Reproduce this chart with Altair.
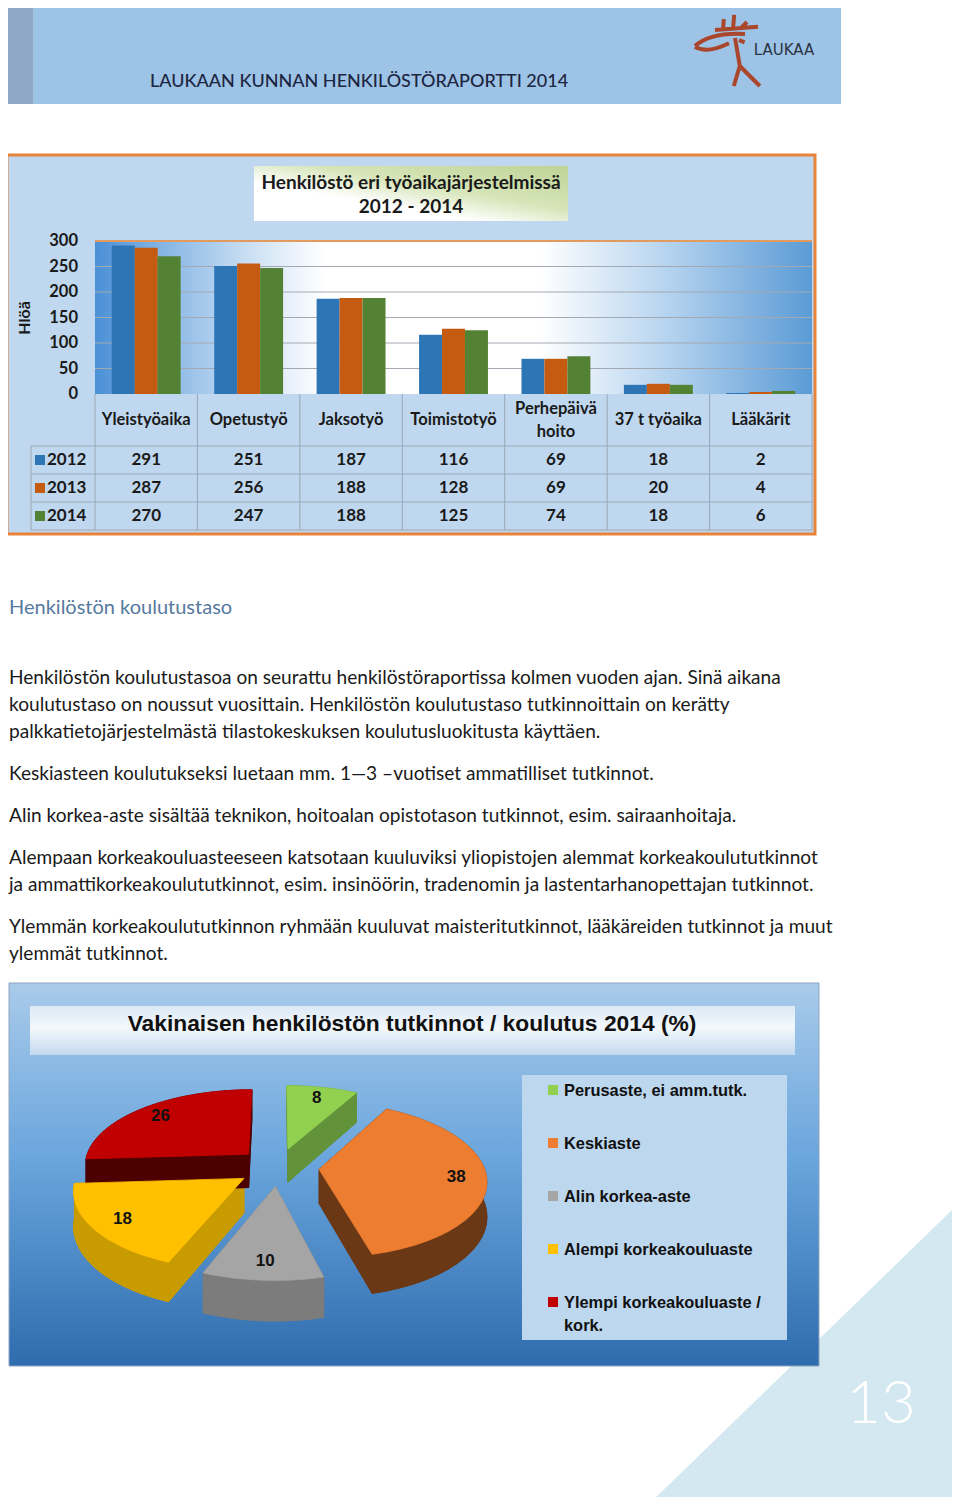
import altair as alt
import numpy as np
import pandas as pd

# ---------------- data ----------------
bar_categories = ["Yleistyöaika", "Opetustyö", "Jaksotyö", "Toimistotyö",
                  "Perhepäivä\nhoito", "37 t työaika", "Lääkärit"]
bar_years = ["2012", "2013", "2014"]
values_2012 = [291, 251, 187, 116, 69, 18, 2]
values_2013 = [287, 256, 188, 128, 69, 20, 4]
values_2014 = [270, 247, 188, 125, 74, 18, 6]
y_ticks = [0, 50, 100, 150, 200, 250, 300]
bar_colors = ["#2E75B6", "#C55A11", "#548235"]

pie_labels = ["Perusaste, ei amm.tutk.", "Keskiaste", "Alin korkea-aste",
              "Alempi korkeakouluaste", "Ylempi korkeakouluaste / kork."]
pie_values = [8, 38, 10, 18, 26]
pie_top_colors = ["#92D050", "#ED7D31", "#A5A5A5", "#FFC000", "#C00000"]
pie_side_colors = ["#62933A", "#6B3816", "#7C7C7C", "#C89B00", "#4C0000"]

header_title = "LAUKAAN KUNNAN HENKILÖSTÖRAPORTTI 2014"
bar_title = ["Henkilöstö eri työaikajärjestelmissä", "2012 - 2014"]
y_title = "Hlöä"
section_heading = "Henkilöstön koulutustaso"
paragraph_lines = [
    "Henkilöstön koulutustasoa on seurattu henkilöstöraportissa kolmen vuoden ajan. Sinä aikana",
    "koulutustaso on noussut vuosittain. Henkilöstön koulutustaso tutkinnoittain on kerätty",
    "palkkatietojärjestelmästä tilastokeskuksen koulutusluokitusta käyttäen.",
    "Keskiasteen koulutukseksi luetaan mm. 1—3 –vuotiset ammatilliset tutkinnot.",
    "Alin korkea-aste sisältää teknikon, hoitoalan opistotason tutkinnot, esim. sairaanhoitaja.",
    "Alempaan korkeakouluasteeseen katsotaan kuuluviksi yliopistojen alemmat korkeakoulututkinnot",
    "ja ammattikorkeakoulututkinnot, esim. insinöörin, tradenomin ja lastentarhanopettajan tutkinnot.",
    "Ylemmän korkeakoulututkinnon ryhmään kuuluvat maisteritutkinnot, lääkäreiden tutkinnot ja muut",
    "ylemmät tutkinnot.",
]
paragraph_y = [678, 705, 732, 774, 816, 858, 885, 927, 954]
pie_title = "Vakinaisen henkilöstön tutkinnot / koulutus 2014  (%)"
page_number = "13"

# ---------------- helpers ----------------
O = 8  # page margin
def px(v):
    return v - O

F_C = "Lato"              # Calibri-like
F_T = "Liberation Sans"   # Tahoma-like
one = pd.DataFrame({"k": [0]})
L = []

def box(x1, y1, x2, y2, **kw):
    return alt.Chart(one).mark_rect(**kw).encode(
        x=alt.value(px(x1)), x2=alt.value(px(x2)),
        y=alt.value(px(y1)), y2=alt.value(px(y2)))

def hline(y, x1, x2, color="#9AA7B5", w=1):
    return alt.Chart(one).mark_rule(color=color, strokeWidth=w).encode(
        x=alt.value(px(x1)), x2=alt.value(px(x2)), y=alt.value(px(y)))

def vline(x, y1, y2, color="#9AA7B5", w=1):
    return alt.Chart(one).mark_rule(color=color, strokeWidth=w).encode(
        x=alt.value(px(x)), y=alt.value(px(y1)), y2=alt.value(px(y2)))

def txt(x, y, text, size, weight="normal", color="#1a1a1a", align="left",
        font=F_C, angle=None):
    kw = dict(fontSize=size, fontWeight=weight, color=color, align=align,
              baseline="middle", font=font)
    if angle is not None:
        kw["angle"] = angle
    return alt.Chart(one).mark_text(**kw).encode(
        x=alt.value(px(x)), y=alt.value(px(y)), text=alt.value(text))

def lin(stops, x1=0, y1=0, x2=1, y2=0):
    return {"gradient": "linear", "x1": x1, "y1": y1, "x2": x2, "y2": y2,
            "stops": [{"offset": o, "color": c} for o, c in stops]}

# ---------------- header ----------------
L.append(box(8, 2, 841, 104, fill="#9DC3E6"))
L.append(box(8, 2, 33, 104, fill="#8FA8C6"))
L.append(txt(150, 82, header_title, 18, weight=500, color="#1C2541"))
logo_path = ("M -0.5 -0.55 L 0.575 -0.63 "
             "M -0.3 -0.55 L -0.28 -0.82 M -0.05 -0.58 L -0.02 -0.93 M 0.15 -0.6 L 0.3 -0.75 "
             "M -1 -0.15 Q -0.6 -0.5 0.25 -0.45 "
             "M -1 -0.13 Q -0.7 0.05 -0.15 -0.22 "
             "M 0 -0.35 L 0.12 0.35 L -0.03 0.85 M 0.12 0.35 L 0.32 0.55 L 0.62 0.85 "
             "M 0.1 -0.3 L 0.24 -0.24")
L.append(alt.Chart(one).mark_point(shape=logo_path, size=6400, filled=False,
                                   stroke="#A9462C", strokeWidth=4, opacity=1).encode(
    x=alt.value(px(735)), y=alt.value(px(52))))
L.append(txt(784, 50, "LAUKAA", 15, color="#2B3442", align="center", font="DejaVu Sans"))

# ---------------- bar chart panel ----------------
L.append(box(7, 155, 815, 534, fill="#BFD8EF", stroke="#E8833A", strokeWidth=3))
L.append(box(254, 166, 568, 221, fill=lin([(0, "#FFFFFF"), (0.35, "#FFFFFF"),
                                             (0.6, "#D6E5B8"), (1, "#BED396")],
                                            x1=0, y1=1, x2=1, y2=0)))
L.append(txt(411, 183, bar_title[0], 19, weight="bold", align="center"))
L.append(txt(411, 207, bar_title[1], 19, weight="bold", align="center"))

X0, X1, YB, YT = 95, 812, 394, 241
L.append(box(X0, YT, X1, YB, fill=lin([(0, "#4A8FD6"), (0.08, "#7DB0E2"), (0.24, "#D8E8F7"),
                                         (0.32, "#FFFFFF"), (0.62, "#FFFFFF"),
                                         (0.8, "#B5D3EF"), (1, "#5B9BD5")])))

def xband():
    return alt.Scale(type="band", domain=bar_categories, range=[px(X0), px(X1)],
                     paddingInner=0, paddingOuter=0)

yscale = alt.Scale(domain=[0, 300], range=[px(YB), px(YT)], nice=False)

tick_df = pd.DataFrame({"t": y_ticks})
L.append(alt.Chart(tick_df).transform_filter("datum.t > 0 && datum.t < 300").mark_rule(
    color="#A3A9B2", strokeWidth=1).encode(
    y=alt.Y("t:Q", scale=yscale, axis=None), x=alt.value(px(X0)), x2=alt.value(px(X1))))
L.append(hline(YT, X0, X1, color="#E39A5E", w=2))

bar_df = pd.DataFrame([
    {"cat": c, "year": y, "value": v}
    for y, vals in zip(bar_years, [values_2012, values_2013, values_2014])
    for c, v in zip(bar_categories, vals)
])
year_color = alt.Scale(domain=bar_years, range=bar_colors)
L.append(alt.Chart(bar_df).mark_bar().encode(
    x=alt.X("cat:N", scale=xband(), axis=None, sort=bar_categories),
    xOffset=alt.XOffset("year:N", scale=alt.Scale(domain=bar_years, paddingInner=0,
                                                   paddingOuter=0.73)),
    y=alt.Y("value:Q", scale=yscale, axis=None),
    color=alt.Color("year:N", scale=year_color, legend=None)))

L.append(alt.Chart(tick_df).mark_text(align="right", baseline="middle", fontSize=16.5,
                                      fontWeight="bold", font=F_C, color="#1a1a1a").encode(
    y=alt.Y("t:Q", scale=yscale, axis=None), x=alt.value(px(78)), text="t:Q"))
L.append(txt(25, 318, y_title, 16, weight="bold", align="center", angle=270))

# table grid
for yy in [446, 474, 502, 530]:
    L.append(hline(yy, 31, X1))
L.append(vline(31, 446, 530))
cat_df = pd.DataFrame({"cat": bar_categories})
L.append(alt.Chart(cat_df).mark_rule(color="#9AA7B5", strokeWidth=1).encode(
    x=alt.X("cat:N", scale=xband(), axis=None, bandPosition=0),
    y=alt.value(px(394)), y2=alt.value(px(530))))
L.append(vline(X1, 394, 530))

L.append(alt.Chart(cat_df).transform_filter("indexof(datum.cat, '\\n') < 0").mark_text(
    fontSize=16.5, fontWeight="bold", font=F_C, color="#1a1a1a", baseline="middle").encode(
    x=alt.X("cat:N", scale=xband(), axis=None), y=alt.value(px(420)), text="cat:N"))
L.append(alt.Chart(cat_df).transform_filter("indexof(datum.cat, '\\n') >= 0").mark_text(
    fontSize=16.5, fontWeight="bold", font=F_C, color="#1a1a1a", baseline="top",
    lineBreak="\n", lineHeight=23).encode(
    x=alt.X("cat:N", scale=xband(), axis=None), y=alt.value(px(401)), text="cat:N"))

row_y = alt.Scale(type="point", domain=bar_years, range=[px(460), px(516)], padding=0)
L.append(alt.Chart(bar_df).mark_text(fontSize=17, fontWeight="bold", font=F_C,
                                     color="#1a1a1a", baseline="middle").encode(
    x=alt.X("cat:N", scale=xband(), axis=None),
    y=alt.Y("year:N", scale=row_y, axis=None), text="value:Q"))
year_df = pd.DataFrame({"year": bar_years})
L.append(alt.Chart(year_df).mark_square(size=100, opacity=1).encode(
    x=alt.value(px(40)), y=alt.Y("year:N", scale=row_y, axis=None),
    color=alt.Color("year:N", scale=year_color, legend=None)))
L.append(alt.Chart(year_df).mark_text(fontSize=17, fontWeight="bold", font=F_C,
                                      color="#1a1a1a", baseline="middle", align="left").encode(
    x=alt.value(px(47)), y=alt.Y("year:N", scale=row_y, axis=None), text="year:N"))

# ---------------- text section ----------------
L.append(txt(9, 608, section_heading, 20, color="#56799E"))
for line, yy in zip(paragraph_lines, paragraph_y):
    L.append(txt(9, yy, line, 19.1, color="#1a1a1a"))

# ---------------- page corner ----------------
L.append(alt.Chart(one).mark_point(shape="M 1 -0.94 L 1 1 L -1 1 Z", size=312 ** 2,
                                   filled=True, fill="#D3E8F0", opacity=1, strokeWidth=0).encode(
    x=alt.value(px(804)), y=alt.value(px(1349))))
L.append(txt(881, 1405, page_number, 60, weight=300, color="#FFFFFF", align="center"))

# ---------------- pie panel ----------------
L.append(box(9, 983, 819, 1366, fill=lin([(0, "#A9CBEA"), (0.45, "#6BA6DD"), (1, "#2E6CAE")],
                                           x1=0, y1=0, x2=0, y2=1),
             stroke="#8EA6C0", strokeWidth=1))
L.append(box(30, 1006, 795, 1055, fill=lin([(0, "#DCE9F6"), (0.45, "#F3F8FC"), (1, "#C3D9EF")],
                                             x1=0, y1=0, x2=0, y2=1)))
L.append(txt(412, 1024, pie_title, 22.8, weight="bold", align="center", font=F_T, color="#111111"))

N = 30
M = 2 * N
E, P, D = 0.25, 0.13, 0.447
pie_total = float(sum(pie_values))
cum = np.cumsum([0] + pie_values[:-1])
slice_df = pd.DataFrame({
    "s": list(range(len(pie_values))),
    "label": pie_labels,
    "value": pie_values,
    "f0": cum / pie_total,
    "f1": (cum + np.array(pie_values)) / pie_total,
    "top": pie_top_colors,
    "side": pie_side_colors,
})
CX, CY, RX, RY = 278, 1167, 165, 76
pie_x = alt.Scale(domain=[-1, 1], range=[px(CX - RX), px(CX + RX)], nice=False, zero=False)
pie_y = alt.Scale(domain=[-1, 1], range=[px(CY - RY), px(CY + RY)], nice=False, zero=False)

geo = (alt.Chart(alt.sequence(0, len(pie_values) * 5 * M, as_="k"))
       .transform_calculate(s=f"floor(datum.k / {5 * M})", rem=f"datum.k % {5 * M}")
       .transform_calculate(part=f"floor(datum.rem / {M})", j=f"datum.rem % {M}")
       .transform_lookup(lookup="s", from_=alt.LookupData(slice_df, key="s",
                                                           fields=["f0", "f1", "top", "side"]))
       .transform_calculate(a0="2*PI*datum.f0", a1="2*PI*datum.f1")
       .transform_calculate(mid="(datum.a0+datum.a1)/2", q="min(datum.j, 3)")
       .transform_calculate(
           r="datum.part==1 ? 1 : (datum.part==2 || datum.part==3) ? ((datum.q==1 || datum.q==2) ? 1 : 0) : (datum.j==0 ? 0 : 1)",
           ang=(f"datum.part==1 ? datum.a0+(datum.a1-datum.a0)*(datum.j<{N} ? datum.j : {2 * N - 1}-datum.j)/{N - 1}"
                f" : datum.part==2 ? datum.a0 : datum.part==3 ? datum.a1"
                f" : datum.a0+(datum.a1-datum.a0)*clamp((datum.j-1)/{N - 1}, 0, 1)"),
           dz=(f"datum.part==0 ? 1 : datum.part==1 ? (datum.j<{N} ? 0 : 1)"
               f" : (datum.part<=3 ? (datum.q>=2 ? 1 : 0) : 0)"))
       .transform_calculate(u=f"datum.r*sin(datum.ang) + {E}*sin(datum.mid)",
                            v=f"-datum.r*cos(datum.ang) - {E}*cos(datum.mid)")
       .transform_calculate(w=f"1/(1-{P}*datum.v)")
       .transform_calculate(X="datum.u*datum.w", Y=f"(datum.v + datum.dz*{D})*datum.w",
                            gid="datum.s*10+datum.part",
                            col="datum.part==4 ? datum.top : datum.side"))

def pie_layer(flt):
    return geo.transform_filter(flt).mark_line(interpolate="linear-closed", strokeWidth=0.8).encode(
        x=alt.X("X:Q", scale=pie_x, axis=None),
        y=alt.Y("Y:Q", scale=pie_y, axis=None),
        detail="gid:N", order="j:Q",
        fill=alt.Fill("col:N", scale=None),
        stroke=alt.Stroke("col:N", scale=None))

L.append(pie_layer("datum.part < 4"))
L.append(pie_layer("datum.part == 4"))

LR = 0.82
L.append(alt.Chart(slice_df)
         .transform_calculate(mid="PI*(datum.f0+datum.f1)")
         .transform_calculate(u=f"{E + LR}*sin(datum.mid)", v=f"-{E + LR}*cos(datum.mid)")
         .transform_calculate(w=f"1/(1-{P}*datum.v)")
         .transform_calculate(X="datum.u*datum.w", Y="datum.v*datum.w")
         .mark_text(fontSize=17, fontWeight="bold", font=F_T, color="#111111", baseline="middle")
         .encode(x=alt.X("X:Q", scale=pie_x, axis=None),
                 y=alt.Y("Y:Q", scale=pie_y, axis=None), text="value:Q"))

# legend
L.append(box(522, 1075, 787, 1340, fill="#BDD7EE"))
leg_y = alt.Scale(type="point", domain=pie_labels, range=[px(1090), px(1302)], padding=0)
L.append(alt.Chart(slice_df).mark_square(size=100, opacity=1).encode(
    x=alt.value(px(553)), y=alt.Y("label:N", scale=leg_y, axis=None),
    color=alt.Color("top:N", scale=None)))
L.append(alt.Chart(slice_df).transform_calculate(disp="replace(datum.label, '/ ', '/\\n')")
         .mark_text(fontSize=16.4, fontWeight="bold", font=F_T, color="#111111", align="left",
                    baseline="top", dy=-7, lineBreak="\n", lineHeight=23)
         .encode(x=alt.value(px(564)), y=alt.Y("label:N", scale=leg_y, axis=None), text="disp:N"))

chart = (alt.layer(*L)
         .resolve_scale(x="independent", y="independent")
         .properties(width=944, height=1489, autosize=alt.AutoSizeParams(type="none"), padding=0)
         .configure_view(stroke=None))
chart.save("out.html", embed_options={"renderer": "svg", "actions": False})
